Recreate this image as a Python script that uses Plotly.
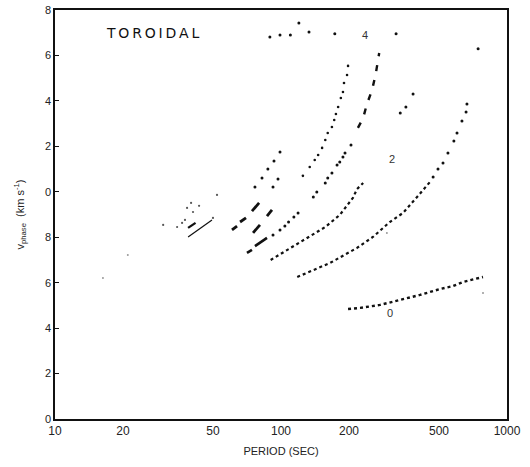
import math
import plotly.graph_objects as go

# ---------------- data (period in s, phase velocity in km/s) ----------------
# fundamental branch (n = 0)
n0_T = [198, 224, 274, 337, 412, 505, 577, 639, 783]
n0_v = [4.84, 4.89, 5.02, 5.24, 5.46, 5.72, 5.85, 6.03, 6.25]

# first overtone
n1_line_T = [118, 165, 217, 255, 303, 347, 400, 456]
n1_line_v = [6.25, 6.87, 7.53, 8.01, 8.67, 9.07, 9.77, 10.43]
n1_dots_T = [471, 495, 521, 548, 582, 601, 632, 659, 665, 745]
n1_dots_v = [10.65, 11.00, 11.27, 11.71, 12.24, 12.59, 13.12, 13.51, 13.86, 16.29]

# second overtone
n2_line_T = [90, 110, 130, 157, 182, 208, 217, 231]
n2_line_v = [7.00, 7.53, 7.97, 8.45, 8.98, 9.73, 10.12, 10.39]
n2_dots_T = [337, 357, 384]
n2_dots_v = [13.47, 13.73, 14.30]

# third overtone
n3_dash_T = [70.7, 74.4, None, 76.7, 86.7]
n3_dash_v = [7.31, 7.44, None, 7.61, 7.97]
n3_steep_T = [219, 231, 240, 253, 263, 272]
n3_steep_v = [12.81, 13.25, 13.86, 14.48, 15.23, 16.11]
n3_dots_T = [92.2, 99, 104, 108, 114, 119, 139, 144, 157, 161, 168, 177, 182, 188, 192, 204]
n3_dots_v = [8.10, 8.32, 8.49, 8.67, 8.89, 9.07, 9.77, 9.99, 10.39, 10.61, 10.83, 11.18,
             11.31, 11.53, 11.71, 12.06]

# fourth overtone
n4_dash_T = [75.2, 80.7, None, 86.7, 91.2]
n4_dash_v = [8.19, 8.54, None, 8.93, 9.20]
n4_dots_T = [125, 134, 141, 146, 152, 157, 161, 168, 172, 175, 179, 184, 188, 190, 196, 198]
n4_dots_v = [10.70, 11.09, 11.40, 11.62, 11.93, 12.28, 12.59, 12.85, 13.16, 13.42, 13.73,
             14.13, 14.39, 14.79, 15.14, 15.54]

# fifth overtone
n5_dash_T = [60.7, 63.9, None, 65.9, 70.0, None, 74.4, 80.0]
n5_dash_v = [8.32, 8.49, None, 8.67, 8.85, None, 9.15, 9.51]
n5_dots_T = [92.2, 97.0]
n5_dots_v = [10.21, 10.56]

# sixth overtone (dots only)
n6_dots_T = [76.7, 82.4, 87.5, 93.1, 99.0]
n6_dots_v = [10.21, 10.61, 11.00, 11.36, 11.75]

# short-period cluster
hi_thin_T = [38.8, 44.0, 49.5]
hi_thin_v = [8.01, 8.38, 8.76]
hi_dash_T = [38.8, 43.8]
hi_dash_v = [8.41, 8.76]
hi_dots_T = [30.1, 34.7, 36.5, 37.6, 38.4, 40.0, 40.8, 43.4, 50.0, 52.1]
hi_dots_v = [8.54, 8.45, 8.63, 8.76, 9.29, 9.51, 9.11, 9.38, 8.85, 9.86]

# points near the top of the frame
top_T = [89.3, 99, 110, 120, 133, 173, 323]
top_v = [16.81, 16.90, 16.90, 17.43, 17.03, 16.95, 16.95]

# faint stray points
stray_T = [16.3, 21.0, 294, 783]
stray_v = [6.20, 7.22, 8.19, 5.55]

# branch labels
lab_text = ["0", "2", "4"]
lab_T = [303, 310, 236]
lab_v = [4.66, 11.44, 16.90]

# axis ticks
x_ticks = [10, 20, 50, 100, 200, 500, 1000]
x_tick_text = ["10", "20", "50", "100", "200", "500", "1000"]
y_ticks = [0, 2, 4, 6, 8, 10, 12, 14, 16, 18]
y_tick_text = ["0", "2", "4", "6", "8", "0", "2", "4", "6", "8"]

# ---------------- figure ----------------
fig = go.Figure()
INK = "#111111"
TXT = "#222222"


def line(T, v, width, dash="solid", color=INK):
    fig.add_trace(go.Scatter(x=T, y=v, mode="lines", connectgaps=False,
                             line=dict(color=color, width=width, dash=dash),
                             hoverinfo="skip", showlegend=False))


def dots(T, v, size, color=INK):
    fig.add_trace(go.Scatter(x=T, y=v, mode="markers",
                             marker=dict(color=color, size=size, line=dict(width=0)),
                             hoverinfo="skip", showlegend=False))


line(n0_T, n0_v, 2.4, "dot")
line(n1_line_T, n1_line_v, 2.2, "dot")
dots(n1_dots_T, n1_dots_v, 3)
line(n2_line_T, n2_line_v, 2.2, "dot")
dots(n2_dots_T, n2_dots_v, 3)
line(n3_dash_T, n3_dash_v, 2.6)
line(n3_steep_T, n3_steep_v, 2.4, "6px,9px")
dots(n3_dots_T, n3_dots_v, 3)
line(n4_dash_T, n4_dash_v, 2.8)
dots(n4_dots_T, n4_dots_v, 2.6)
line(n5_dash_T, n5_dash_v, 2.8)
dots(n5_dots_T, n5_dots_v, 3)
dots(n6_dots_T, n6_dots_v, 3)
line(hi_thin_T, hi_thin_v, 1.2)
line(hi_dash_T, hi_dash_v, 2.2, "dash")
dots(hi_dots_T, hi_dots_v, 2.2, "#555555")
dots(top_T, top_v, 3)
dots(stray_T, stray_v, 2, "#999999")

# annotations on a log axis take log10 positions
for t, T, v in zip(lab_text, lab_T, lab_v):
    fig.add_annotation(x=math.log10(T), y=v, xref="x", yref="y", text=t,
                       showarrow=False, xanchor="center", yanchor="middle",
                       font=dict(family="Liberation Sans", size=11, color="#333333"))

fig.add_annotation(x=0.108, y=0.944, xref="paper", yref="paper",
                   text="\u2009".join("TOROIDAL"),
                   showarrow=False, xanchor="left", yanchor="middle",
                   font=dict(family="DejaVu Sans", size=14, color=INK))

fig.update_layout(
    template="none",
    width=530, height=467,
    margin=dict(l=55, r=23, t=10, b=48),
    paper_bgcolor="white", plot_bgcolor="white",
    font=dict(family="Liberation Sans", size=11, color=TXT),
    xaxis=dict(type="log", range=[1, 3], tickvals=x_ticks, ticktext=x_tick_text,
               showgrid=False, zeroline=False, showline=True, linecolor=INK,
               linewidth=1.6, mirror=True, ticks="", ticklen=0,
               tickfont=dict(size=12, color=TXT),
               title=dict(text="PERIOD (SEC)", standoff=10,
                          font=dict(size=11, color=TXT))),
    yaxis=dict(range=[0, 18], tickvals=y_ticks, ticktext=y_tick_text,
               showgrid=False, zeroline=False, showline=True, linecolor=INK,
               linewidth=1.6, mirror=True, ticks="inside", ticklen=4,
               tickcolor=INK, tickfont=dict(size=11, color=TXT),
               title=dict(text="v<sub>phase</sub>  (km s<sup>-1</sup>)", standoff=18,
                          font=dict(size=11, color=TXT))),
)

fig.write_html("out.html")
